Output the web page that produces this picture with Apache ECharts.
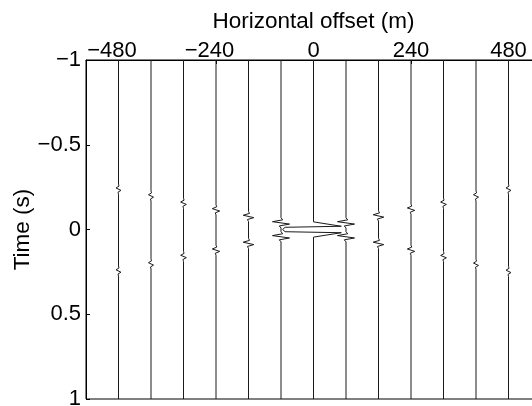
<!DOCTYPE html>
<html lang="en">
<head>
    <meta charset="utf-8">
    <title>Wiggle traces</title>
    <script src="https://cdn.jsdelivr.net/npm/echarts@6/dist/echarts.min.js"></script>
    <style>
        html, body { margin: 0; padding: 0; background: #fff; }
        #chart { width: 532px; height: 406px; }
    </style>
</head>
<body>
<div id="chart"></div>
<script type="text/javascript">
    // trace positions (m)
    var offsets = [-480, -400, -320, -240, -160, -80, 0, 80, 160, 240, 320, 400, 480];
    // time of the early and late event on each trace (s)
    var earlyTimes = [-0.238, -0.198, -0.155, -0.116, -0.077, -0.039, 0, -0.039, -0.08, -0.12, -0.155, -0.198, -0.238];
    var lateTimes = [0.245, 0.203, 0.159, 0.122, 0.082, 0.043, 0, 0.043, 0.082, 0.122, 0.16, 0.205, 0.247];
    // peak deflection of each trace, in metres of offset
    var amplitudes = [6, 6.2, 7, 9, 13, 21, 76, 21, 13, 9, 7, 6.2, 6];
    // wavelet shape: [time shift (s), relative deflection]
    var wavelet = [[-0.03, 0], [-0.018, 0.2], [-0.007, -1], [0.007, 1], [0.018, -0.2], [0.03, 0]];
    // zero-offset trace: clipped lobes, right / left / right
    var zeroWavelet = [[-0.045, 0], [-0.019, 0.9], [-0.013, -0.92], [0, -1], [0.013, -0.92],
        [0.019, 0.9], [0.045, 0]];
    var xTicks = [-480, -240, 0, 240, 480];
    var yTicks = [-1, -0.5, 0, 0.5, 1];

    var font = 'Liberation Sans, Arial, Helvetica, sans-serif';

    function minus(v) {
        return v < 0 ? '\u2212' + (-v) : String(v);
    }

    var series = [];
    for (var i = 0; i < offsets.length; i++) {
        var x0 = offsets[i];
        var events = x0 === 0 ? [0] : [earlyTimes[i], lateTimes[i]];
        var shape = x0 === 0 ? zeroWavelet : wavelet;
        var pts = [[x0, yTicks[0]]];
        for (var e = 0; e < events.length; e++) {
            for (var k = 0; k < shape.length; k++) {
                pts.push([x0 + amplitudes[i] * shape[k][1], events[e] + shape[k][0]]);
            }
        }
        pts.push([x0, yTicks[yTicks.length - 1]]);
        series.push({
            type: 'line',
            data: pts,
            showSymbol: false,
            symbol: 'none',
            silent: true,
            lineStyle: { color: '#1a1a1a', width: 1 }
        });
    }

    var chart = echarts.init(document.getElementById('chart'), null, { renderer: 'canvas' });
    chart.setOption({
        animation: false,
        backgroundColor: '#fff',
        grid: {
            left: 86, top: 60, width: 455, height: 339,
            show: true, borderColor: '#000', borderWidth: 1,
            containLabel: false, outerBoundsMode: 'none'
        },
        xAxis: {
            type: 'value',
            position: 'top',
            min: -560, max: 560,
            name: 'Horizontal offset (m)',
            nameLocation: 'middle',
            nameGap: 27,
            nameMoveOverlap: false,
            nameTextStyle: { fontFamily: font, fontSize: 22.5, color: '#000' },
            axisLine: { show: true, onZero: false, lineStyle: { color: '#000', width: 1 } },
            axisTick: { show: true, inside: true, length: 4, customValues: xTicks, lineStyle: { color: '#000' } },
            axisLabel: {
                customValues: xTicks,
                margin: -2,
                fontFamily: font, fontSize: 22, color: '#000',
                formatter: function (v) {
                    return v < 0 ? minus(v) + '{gap|}' : String(v);
                },
                rich: { gap: { width: 13 } }
            },
            splitLine: { show: false }
        },
        yAxis: {
            type: 'value',
            inverse: true,
            min: -1, max: 1, interval: 0.5,
            name: 'Time (s)',
            nameLocation: 'middle',
            nameRotate: 90,
            nameGap: 52,
            nameMoveOverlap: false,
            nameTextStyle: { fontFamily: font, fontSize: 22.5, color: '#000' },
            axisLine: { show: true, onZero: false, lineStyle: { color: '#000', width: 1 } },
            axisTick: { show: true, inside: true, length: 4, lineStyle: { color: '#000' } },
            axisLabel: {
                margin: 5,
                fontFamily: font, fontSize: 22, color: '#000',
                formatter: minus
            },
            splitLine: { show: false }
        },
        series: series
    });
</script>
</body>
</html>
